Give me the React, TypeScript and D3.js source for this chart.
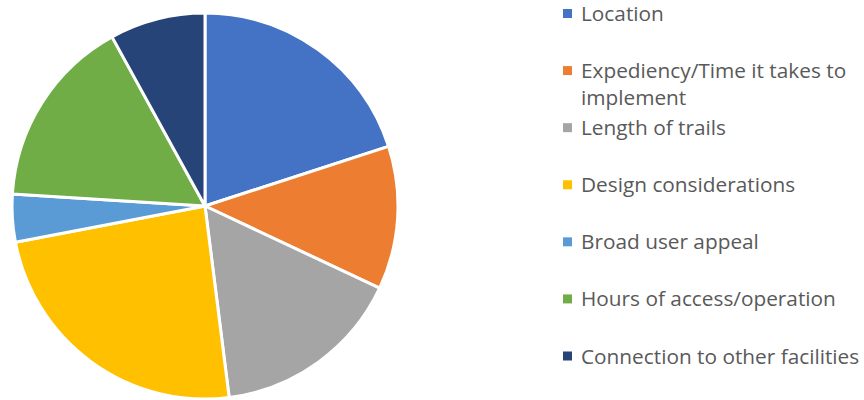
import React from "react";
import * as d3 from "d3";

const categories = [
  "Location",
  "Expediency/Time it takes to implement",
  "Length of trails",
  "Design considerations",
  "Broad user appeal",
  "Hours of access/operation",
  "Connection to other facilities",
];
const values = [20, 12, 16, 24, 4, 16, 8];
const colors = ["#4472C4", "#ED7D31", "#A5A5A5", "#FFC000", "#5B9BD5", "#70AD47", "#264478"];
const legendLines = [
  ["Location"],
  ["Expediency/Time it takes to", "implement"],
  ["Length of trails"],
  ["Design considerations"],
  ["Broad user appeal"],
  ["Hours of access/operation"],
  ["Connection to other facilities"],
];

export default function App() {
  const W = 864, H = 400;
  const cx = 205, cy = 206, r = 193;
  const pie = d3.pie<number>().sort(null).value((d) => d);
  const arcs = pie(values);
  const arc = d3.arc<d3.PieArcDatum<number>>().innerRadius(0).outerRadius(r);
  const legendY = d3.scalePoint<number>().domain(d3.range(categories.length)).range([13.5, 356]);
  return (
    <svg width={W} height={H} style={{ position: "absolute", left: 0, top: 0 }}>
      <rect width={W} height={H} fill="#fff" />
      <g transform={`translate(${cx},${cy})`}>
        {arcs.map((a, i) => (
          <path key={i} d={arc(a) || ""} fill={colors[i]} stroke="#fff" strokeWidth={3} strokeLinejoin="round" />
        ))}
      </g>
      <g fontFamily="'Open Sans', sans-serif" fontSize={20.8} fill="#595959">
        {categories.map((c, i) => {
          const y = legendY(i)!;
          return (
            <g key={c}>
              <rect x={563} y={y - 4.5} width={9} height={9} fill={colors[i]} />
              {legendLines[i].map((t, j) => (
                <text key={j} x={581} y={y + 7.5 + j * 27}>{t}</text>
              ))}
            </g>
          );
        })}
      </g>
    </svg>
  );
}
